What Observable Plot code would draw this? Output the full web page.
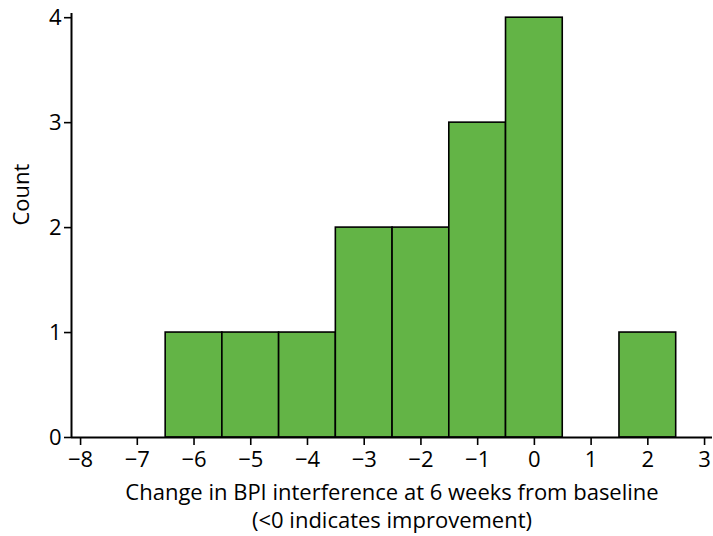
<!DOCTYPE html>
<html>
<head>
<meta charset="utf-8">
<script src="https://cdn.jsdelivr.net/npm/d3@7"></script>
<script src="https://cdn.jsdelivr.net/npm/@observablehq/plot@0.6"></script>
<style>
  html, body { margin: 0; padding: 0; background: #fff; }
  #chart svg { display: block; }
  #chart svg text { font-family: 'Open Sans', sans-serif !important; font-size: 22px !important; fill: #000; }
  #chart svg text.xlab { font-size: 22.5px !important; }
</style>
</head>
<body>
<div id="chart"></div>
<script>
const binCenters = [-6, -5, -4, -3, -2, -1, 0, 2];
const counts = [1, 1, 1, 2, 2, 3, 4, 1];
const xTicks = [-8, -7, -6, -5, -4, -3, -2, -1, 0, 1, 2, 3];
const yTicks = [0, 1, 2, 3, 4];
const xLabel = "Change in BPI interference at 6 weeks from baseline\n(<0 indicates improvement)";
const yLabel = "Count";

const data = binCenters.map((c, i) => ({x1: c - 0.5, x2: c + 0.5, count: counts[i]}));
const xDomain = [-8.16, 3.14];
const yDomain = [0, 4.04];

const chart = Plot.plot({
  width: 713,
  height: 536,
  marginTop: 13,
  marginBottom: 99,
  marginLeft: 71,
  marginRight: 1,
  style: {color: "#000", background: "#fff"},
  x: {domain: xDomain},
  y: {domain: yDomain},
  marks: [
    Plot.rectY(data, {x1: "x1", x2: "x2", y: "count", fill: "#63b446", stroke: "#000", strokeWidth: 1.6}),
    Plot.ruleY([0], {stroke: "#000", strokeWidth: 2}),
    Plot.ruleX([xDomain[0]], {y1: 0, y2: yDomain[1], stroke: "#000", strokeWidth: 2}),
    Plot.axisX({ticks: xTicks, tickSize: 8, tickPadding: 6, tickFormat: d3.format("d"), label: null, strokeWidth: 1.6}),
    Plot.axisY({ticks: yTicks, tickSize: 7, tickPadding: 3, tickFormat: d3.format("d"), label: null, strokeWidth: 1.6}),
    Plot.text([xLabel], {frameAnchor: "bottom", dy: 90, lineHeight: 1.26, textAnchor: "middle", fill: "#000", className: "xlab"}),
    Plot.text([yLabel], {frameAnchor: "left", dx: -50, rotate: -90, fill: "#000"})
  ]
});
document.getElementById("chart").appendChild(chart);
</script>
</body>
</html>
